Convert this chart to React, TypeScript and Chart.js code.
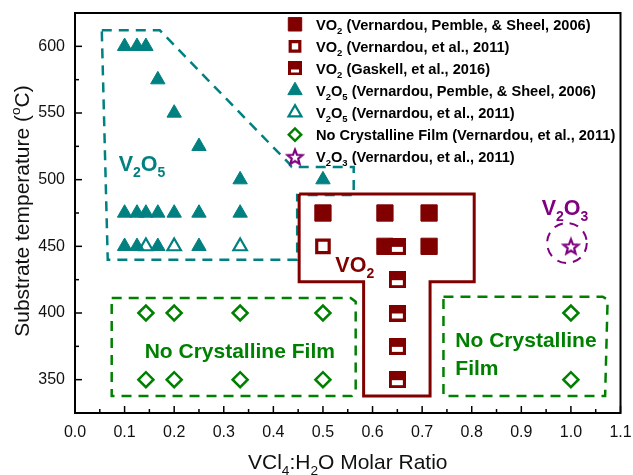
import { useEffect, useRef } from 'react';
import { Chart, registerables } from 'chart.js';
import { drawPoint } from 'chart.js/helpers';

Chart.register(...registerables);

const FONT = '"Liberation Sans", Arial, Helvetica, sans-serif';
const WINE = '#800000';
const TEAL = '#008080';
const GREEN = '#008000';
const PURPLE = '#800080';
const INK = '#111';

// Axis tick labels
const X_TICKS = ['0.0', '0.1', '0.2', '0.3', '0.4', '0.5', '0.6', '0.7', '0.8', '0.9', '1.0', '1.1'];
const Y_TICKS = ['350', '400', '450', '500', '550', '600'];

// VO2 (Vernardou, Pemble & Sheel, 2006)
const VO2_2006_X = [0.5, 0.625, 0.714, 0.625, 0.714];
const VO2_2006_Y = [475, 475, 475, 450, 450];
// VO2 (Vernardou et al., 2011)
const VO2_2011_X = [0.5];
const VO2_2011_Y = [450];
// VO2 (Gaskell et al., 2016)
const VO2_2016_X = [0.65, 0.65, 0.65, 0.65, 0.65];
const VO2_2016_Y = [450, 425, 400, 375, 350];
// V2O5 (Vernardou, Pemble & Sheel, 2006)
const V2O5_2006_X = [
  0.1, 0.125, 0.143, 0.167, 0.2, 0.25, 0.333, 0.5,
  0.1, 0.125, 0.143, 0.167, 0.2, 0.25, 0.333,
  0.1, 0.125, 0.167, 0.25,
];
const V2O5_2006_Y = [
  600, 600, 600, 575, 550, 525, 500, 500,
  475, 475, 475, 475, 475, 475, 475,
  450, 450, 450, 450,
];
// V2O5 (Vernardou et al., 2011)
const V2O5_2011_X = [0.143, 0.2, 0.333];
const V2O5_2011_Y = [450, 450, 450];
// No crystalline film (Vernardou et al., 2011)
const NCF_X = [0.143, 0.2, 0.333, 0.5, 1.0, 0.143, 0.2, 0.333, 0.5, 1.0];
const NCF_Y = [400, 400, 400, 400, 400, 350, 350, 350, 350, 350];
// V2O3 (Vernardou et al., 2011)
const V2O3_X = [1.0];
const V2O3_Y = [450];

const LEGEND_LABELS = [
  'VO_2 (Vernardou, Pemble, & Sheel, 2006)',
  'VO_2 (Vernardou, et al., 2011)',
  'VO_2 (Gaskell, et al., 2016)',
  'V_2O_5 (Vernardou, Pemble, & Sheel, 2006)',
  'V_2O_5 (Vernardou, et al., 2011)',
  'No Crystalline Film (Vernardou, et al., 2011)',
  'V_2O_3 (Vernardou, et al., 2011)',
];

// Phase-region outlines, in data coordinates (x ratio, y °C)
const V2O5_REGION: [number, number][] = [
  [0.054, 612], [0.171, 612], [0.432, 512], [0.437, 509.5], [0.562, 509.5],
  [0.562, 488.5], [0.448, 488.5], [0.448, 440], [0.066, 440], [0.054, 612],
];
const VO2_REGION: [number, number][] = [
  [0.452, 489.2], [0.805, 489.2], [0.805, 423.5], [0.716, 423.5], [0.716, 337.7],
  [0.582, 337.7], [0.582, 423.5], [0.452, 423.5], [0.452, 489.2],
];
const NCF_LEFT_REGION: [number, number][] = [
  [0.074, 411.2], [0.556, 411.2], [0.566, 408.5], [0.566, 342], [0.558, 337.7],
  [0.074, 337.7], [0.074, 411.2],
];
const NCF_RIGHT_REGION: [number, number][] = [
  [0.743, 412.2], [1.064, 412.2], [1.074, 410], [1.069, 337.7], [0.743, 337.7], [0.743, 412.2],
];
// V2O3 region ellipse: centre and radii in data units
const V2O3_ELLIPSE = { x: 0.992, y: 452.5, rx: 0.04, ry: 15 };

// Region captions: text, anchor (data coords, left/baseline), colour
const REGION_TEXT = [
  { text: 'V_2O_5', x: 0.088, y: 506.5, color: TEAL, size: 21.5 },
  { text: 'VO_2', x: 0.525, y: 430.8, color: WINE, size: 21.5 },
  { text: 'V_2O_3', x: 0.941, y: 473.5, color: PURPLE, size: 21.5 },
  { text: 'No Crystalline Film', x: 0.1405, y: 366.3, color: GREEN, size: 21 },
  { text: 'No Crystalline', x: 0.767, y: 374.6, color: GREEN, size: 21 },
  { text: 'Film', x: 0.767, y: 353.6, color: GREEN, size: 21 },
];

type Part = { t: string; k: 'n' | 'sub' | 'sup'; w?: number };

function parseRich(s: string): Part[] {
  const parts: Part[] = [];
  for (let i = 0; i < s.length; i++) {
    const c = s[i];
    if ((c === '_' || c === '^') && i + 1 < s.length) {
      parts.push({ t: s[i + 1], k: c === '_' ? 'sub' : 'sup' });
      i++;
    } else {
      const last = parts[parts.length - 1];
      if (last && last.k === 'n') last.t += c;
      else parts.push({ t: c, k: 'n' });
    }
  }
  return parts;
}

function drawRich(
  ctx: CanvasRenderingContext2D, s: string, x: number, y: number,
  size: number, weight: string, color: string, align: 'left' | 'center' = 'left',
) {
  const parts = parseRich(s);
  const fontFor = (k: string) => `${weight} ${k === 'n' ? size : size * 0.65}px ${FONT}`;
  let w = 0;
  parts.forEach((p) => {
    ctx.font = fontFor(p.k);
    p.w = ctx.measureText(p.t).width;
    w += p.w;
  });
  let cx = align === 'center' ? x - w / 2 : x;
  ctx.fillStyle = color;
  ctx.textAlign = 'left';
  ctx.textBaseline = 'alphabetic';
  parts.forEach((p) => {
    ctx.font = fontFor(p.k);
    const dy = p.k === 'sub' ? size * 0.3 : p.k === 'sup' ? -size * 0.4 : 0;
    ctx.fillText(p.t, cx, y + dy);
    cx += p.w || 0;
  });
}

function halfSquareMarker(size: number) {
  const c = document.createElement('canvas');
  c.width = size;
  c.height = size;
  const g = c.getContext('2d')!;
  g.fillStyle = WINE;
  g.fillRect(0, 0, size, size);
  const b = Math.round(size * 0.18);
  const top = Math.floor(size / 2) + 1;
  g.fillStyle = '#fff';
  g.fillRect(b, top, size - 2 * b, size - b - top);
  return c;
}

function starMarker(size: number, outer: number, inner: number, lw: number) {
  const c = document.createElement('canvas');
  c.width = size;
  c.height = size;
  const g = c.getContext('2d')!;
  g.strokeStyle = PURPLE;
  g.lineWidth = lw;
  g.lineJoin = 'miter';
  g.beginPath();
  for (let i = 0; i < 10; i++) {
    const r = i % 2 ? inner : outer;
    const a = -Math.PI / 2 + (i * Math.PI) / 5;
    const px = size / 2 + r * Math.cos(a);
    const py = size / 2 + 0.8 + r * Math.sin(a);
    if (i) g.lineTo(px, py);
    else g.moveTo(px, py);
  }
  g.closePath();
  g.stroke();
  return c;
}

const pts = (xs: number[], ys: number[]) => xs.map((x, i) => ({ x, y: ys[i] }));
const outline = (p: [number, number][]) => p.map(([x, y]) => ({ x, y }));

const decorPlugin = {
  id: 'decor',
  afterDatasetsDraw(chart: any) {
    const { ctx, scales } = chart;
    const xs = scales.x;
    const ys = scales.y;
    ctx.save();
    // dashed ellipse round the V2O3 point
    const cx = xs.getPixelForValue(V2O3_ELLIPSE.x);
    const cy = ys.getPixelForValue(V2O3_ELLIPSE.y);
    const rx = Math.abs(xs.getPixelForValue(V2O3_ELLIPSE.x + V2O3_ELLIPSE.rx) - cx);
    const ry = Math.abs(ys.getPixelForValue(V2O3_ELLIPSE.y + V2O3_ELLIPSE.ry) - cy);
    ctx.strokeStyle = PURPLE;
    ctx.lineWidth = 2;
    ctx.setLineDash([9, 7]);
    ctx.beginPath();
    ctx.ellipse(cx, cy, rx, ry, 0, 0, Math.PI * 2);
    ctx.stroke();
    ctx.setLineDash([]);
    REGION_TEXT.forEach((r) => {
      drawRich(ctx, r.text, xs.getPixelForValue(r.x), ys.getPixelForValue(r.y), r.size, 'bold', r.color);
    });
    ctx.restore();
  },
  afterDraw(chart: any) {
    const { ctx, chartArea: a, scales } = chart;
    const xs = scales.x;
    const ys = scales.y;
    ctx.save();
    // inward ticks
    ctx.strokeStyle = '#000';
    ctx.lineWidth = 1.5;
    const xv = X_TICKS.map(parseFloat);
    const yv = Y_TICKS.map(parseFloat);
    const tick = (x1: number, y1: number, x2: number, y2: number) => {
      ctx.beginPath();
      ctx.moveTo(x1, y1);
      ctx.lineTo(x2, y2);
      ctx.stroke();
    };
    xv.forEach((v, i) => {
      const px = xs.getPixelForValue(v);
      tick(px, a.bottom, px, a.bottom - 7);
      if (i < xv.length - 1) {
        const pm = xs.getPixelForValue((v + xv[i + 1]) / 2);
        tick(pm, a.bottom, pm, a.bottom - 4);
      }
    });
    yv.forEach((v, i) => {
      const py = ys.getPixelForValue(v);
      tick(a.left, py, a.left + 7, py);
      if (i < yv.length - 1) {
        const pm = ys.getPixelForValue((v + yv[i + 1]) / 2);
        tick(a.left, pm, a.left + 4, pm);
      }
    });
    // frame
    ctx.lineWidth = 2;
    ctx.strokeRect(a.left, a.top, a.right - a.left, a.bottom - a.top);

    // axis titles
    drawRich(ctx, 'VCl_4:H_2O Molar Ratio', (a.left + a.right) / 2, 469, 21, 'normal', INK, 'center');
    ctx.save();
    ctx.translate(28.5, (a.top + a.bottom) / 2 - 2);
    ctx.rotate(-Math.PI / 2);
    drawRich(ctx, 'Substrate temperature (^oC)', 0, 0, 21, 'normal', INK, 'center');
    ctx.restore();

    // legend
    const sets = chart.data.datasets.filter((d: any) => d.legendIndex !== undefined)
      .sort((p: any, q: any) => p.legendIndex - q.legendIndex);
    sets.forEach((d: any, i: number) => {
      const rowY = a.top + 11.3 + i * 22.07;
      const mx = a.left + 220;
      ctx.fillStyle = d.pointBackgroundColor;
      ctx.strokeStyle = d.pointBorderColor;
      ctx.lineWidth = d.pointBorderWidth;
      drawPoint(ctx, {
        pointStyle: d.legendStyle || d.pointStyle,
        radius: d.legendRadius,
        rotation: 0,
        borderWidth: d.pointBorderWidth,
      } as any, mx, rowY);
      drawRich(ctx, LEGEND_LABELS[d.legendIndex], a.left + 241, rowY + 5.3, 14.6, 'bold', '#000');
    });
    ctx.restore();
  },
};

export default function App() {
  const ref = useRef<HTMLCanvasElement>(null);

  useEffect(() => {
    const canvas = ref.current;
    if (!canvas) return;
    const half17 = halfSquareMarker(17);
    const half14 = halfSquareMarker(14);
    const star = starMarker(20, 7.8, 3.4, 2.2);

    const marker = (o: any) => ({ showLine: false, pointHoverRadius: o.pointRadius, ...o });
    const region = (p: [number, number][], color: string, dash: number[], width: number, order: number) => ({
      data: outline(p), showLine: true, fill: false, tension: 0, borderColor: color,
      borderWidth: width, borderDash: dash, pointRadius: 0, pointHoverRadius: 0, order,
    });

    const datasets: any[] = [
      marker({
        label: 'VO2 2016', legendIndex: 2, data: pts(VO2_2016_X, VO2_2016_Y), order: 0,
        pointStyle: half17, legendStyle: half14, pointRadius: 9, legendRadius: 7,
        pointBackgroundColor: WINE, pointBorderColor: WINE, pointBorderWidth: 0,
      }),
      marker({
        label: 'VO2 2006', legendIndex: 0, data: pts(VO2_2006_X, VO2_2006_Y), order: 1,
        pointStyle: 'rect', pointRadius: 11.5, legendRadius: 9.5,
        pointBackgroundColor: WINE, pointBorderColor: WINE, pointBorderWidth: 1,
      }),
      marker({
        label: 'VO2 2011', legendIndex: 1, data: pts(VO2_2011_X, VO2_2011_Y), order: 1,
        pointStyle: 'rect', pointRadius: 8.8, legendRadius: 6.8,
        pointBackgroundColor: '#fff', pointBorderColor: WINE, pointBorderWidth: 3.2,
      }),
      marker({
        label: 'V2O5 2006', legendIndex: 3, data: pts(V2O5_2006_X, V2O5_2006_Y), order: 1,
        pointStyle: 'triangle', pointRadius: 8.3, legendRadius: 8.3,
        pointBackgroundColor: TEAL, pointBorderColor: TEAL, pointBorderWidth: 1,
      }),
      marker({
        label: 'V2O5 2011', legendIndex: 4, data: pts(V2O5_2011_X, V2O5_2011_Y), order: 1,
        pointStyle: 'triangle', pointRadius: 7.8, legendRadius: 7.5,
        pointBackgroundColor: '#fff', pointBorderColor: TEAL, pointBorderWidth: 2.2,
      }),
      marker({
        label: 'No Crystalline Film', legendIndex: 5, data: pts(NCF_X, NCF_Y), order: 1,
        pointStyle: 'rectRot', pointRadius: 7.5, legendRadius: 6.2,
        pointBackgroundColor: '#fff', pointBorderColor: GREEN, pointBorderWidth: 2.5,
      }),
      marker({
        label: 'V2O3', legendIndex: 6, data: pts(V2O3_X, V2O3_Y), order: 1,
        pointStyle: star, pointRadius: 8, legendRadius: 8,
        pointBackgroundColor: PURPLE, pointBorderColor: PURPLE, pointBorderWidth: 0,
      }),
      region(VO2_REGION, WINE, [], 3, 2),
      region(V2O5_REGION, TEAL, [10, 7], 2.5, 3),
      region(NCF_LEFT_REGION, GREEN, [10, 7], 2.5, 3),
      region(NCF_RIGHT_REGION, GREEN, [10, 7], 2.5, 3),
    ];

    const tickFont = { family: FONT, size: 16 };
    const chart = new Chart(canvas, {
      type: 'scatter',
      data: { datasets },
      plugins: [decorPlugin],
      options: {
        animation: false,
        responsive: false,
        devicePixelRatio: 1,
        events: [],
        layout: { padding: { top: 13, right: 10, left: 0, bottom: 0 } },
        plugins: { legend: { display: false }, tooltip: { enabled: false } },
        scales: {
          x: {
            type: 'linear', min: 0, max: 1.1,
            afterBuildTicks: (s: any) => { s.ticks = X_TICKS.map((t) => ({ value: parseFloat(t) })); },
            afterFit: (s: any) => { s.height = 62; s.paddingLeft = 0; s.paddingRight = 0; },
            ticks: {
              callback: (v: any) => Number(v).toFixed(1), font: tickFont, color: INK,
              padding: 10, maxRotation: 0, autoSkip: false,
            },
            grid: { display: false, drawTicks: false },
            border: { display: false },
          },
          y: {
            type: 'linear', min: 325, max: 625,
            afterBuildTicks: (s: any) => { s.ticks = Y_TICKS.map((t) => ({ value: parseFloat(t) })); },
            afterFit: (s: any) => { s.width = 75; s.paddingTop = 0; s.paddingBottom = 0; },
            ticks: {
              callback: (v: any) => String(v), font: tickFont, color: INK, padding: 10, autoSkip: false,
            },
            grid: { display: false, drawTicks: false },
            border: { display: false },
          },
        },
      } as any,
    });
    return () => chart.destroy();
  }, []);

  return (
    <div style={{ position: 'fixed', left: 0, top: 0, width: 633, height: 475, background: '#fff' }}>
      <canvas ref={ref} width={633} height={475} style={{ display: 'block', width: 633, height: 475 }} />
    </div>
  );
}
